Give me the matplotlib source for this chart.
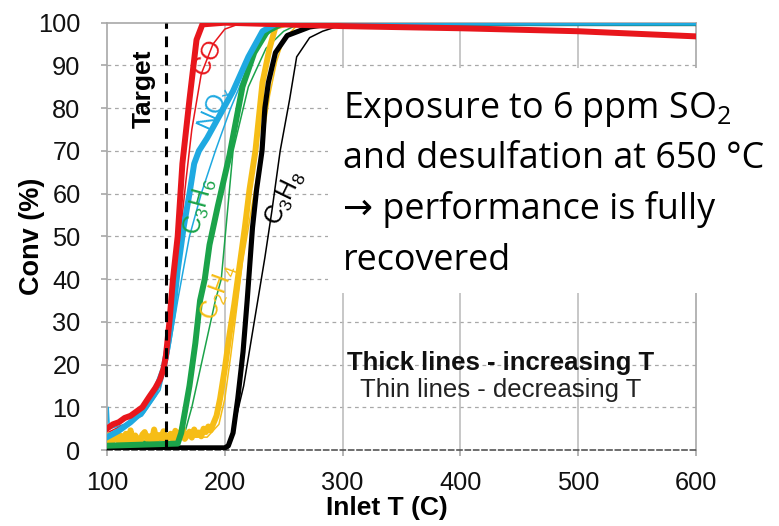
import matplotlib
matplotlib.use("Agg")
import matplotlib.pyplot as plt
from matplotlib.patches import Rectangle

# ---- light-off curves: conversion (%) vs inlet temperature (C) ----
# CO
co_up_T = [100, 105, 110, 115, 120, 125, 130, 136, 141, 145, 148, 150, 153, 156, 160, 164, 170, 176, 181, 200, 300, 400, 500, 600]
co_up_X = [5, 6, 6.5, 7.5, 8, 9, 10, 12.5, 14.5, 16.5, 19, 22, 30, 40, 50, 67, 82, 96, 99.6, 100, 99.2, 98.7, 98, 96.8]
co_dn_T = [100, 115, 130, 145, 152, 157, 162, 167, 172, 180, 190, 200, 215, 300]
co_dn_X = [4, 6, 9, 15, 24, 36, 50, 63, 75, 88, 95, 98.5, 100, 99.5]

# NOx
nox_up_T = [100, 110, 120, 130, 140, 148, 152, 156, 160, 165, 170, 174, 178, 185, 195, 207, 220, 232, 245, 600]
nox_up_X = [3, 4.5, 6.5, 9, 13, 19, 25, 32, 42, 52, 60, 67, 70, 73, 78, 84, 92, 98, 100, 100]
nox_dn_T = [100, 101, 102, 115, 130, 145, 152, 160, 170, 180, 192, 205, 220, 235, 250]
nox_dn_X = [5, 10, 5, 6, 8, 14, 22, 35, 50, 60, 70, 80, 90, 97, 100]

# C3H6
c3h6_up_T = [100, 160, 163, 170, 175, 179, 183, 187, 194, 204, 215, 225, 236, 250, 600]
c3h6_up_X = [1, 1.5, 4, 15, 25, 35, 40, 48, 57, 69, 85, 93, 98, 100, 100]
c3h6_dn_T = [100, 165, 172, 180, 192, 197, 202, 207, 220, 235, 250, 265]
c3h6_dn_X = [1, 3, 10, 20, 35, 40, 55, 70, 85, 94, 98, 100]

# C2H4 (noisy baseline below light-off)
c2h4_up_T = [100, 102, 104, 106, 108, 110, 112, 114, 116, 118, 120, 122, 124, 126, 128, 130, 132, 134,
             136, 138, 140, 142, 144, 146, 148, 150, 152, 154, 156, 158, 160, 162, 164, 166, 168, 170,
             172, 174, 176, 178, 180, 182, 184, 186, 188, 190, 193, 196, 200, 204, 208,
             212, 217, 221, 226, 232, 238, 243, 255, 600]
c2h4_up_X = [2, 3.5, 1.5, 2.8, 4.2, 2, 3.3, 1.8, 3.8, 2.2, 4.6, 2, 3.4, 2.5, 1.8, 3.6, 4.2, 2.6,
             3.2, 2, 4.8, 2.4, 3.5, 2.8, 4.4, 2.2, 3, 3.8, 2.4, 4.5, 2.8, 3.6, 5.2, 2.6, 3.4, 4.3,
             2.9, 4.8, 3.5, 4.1, 3.2, 5, 4.2, 5.5, 4.6, 6, 8, 12, 19, 27, 34,
             42, 52, 61, 70, 86, 94, 99, 100, 100]
c2h4_dn_T = [100, 120, 140, 160, 185, 195, 200, 205, 210, 215, 220, 226, 232, 238, 244, 250, 260, 275]
c2h4_dn_X = [2, 2.5, 2, 3, 3, 6, 12, 22, 33, 44, 52, 62, 72, 83, 91, 96, 99, 100]

# C3H8
c3h8_up_T = [100, 150, 200, 203, 207, 211, 215.5, 219, 223.5, 227, 231.6, 234, 237, 243, 253, 272, 292, 600]
c3h8_up_X = [0.5, 0.5, 0.5, 1, 4, 12, 23, 35, 52, 61, 70, 80, 86, 93, 97, 99, 99.8, 99.8]
c3h8_dn_T = [100, 203, 210, 216, 222, 228, 234, 240, 247, 255, 261, 272, 283, 300, 320]
c3h8_dn_X = [0.3, 0.5, 8, 15, 25, 35, 45, 56, 70, 82, 92, 96.5, 98, 99.5, 100]

target_T = 150

x_ticks = [100, 200, 300, 400, 500, 600]
y_ticks = [0, 10, 20, 30, 40, 50, 60, 70, 80, 90, 100]

RED = "#e8161c"
CYAN = "#1fa9e1"
GREEN = "#1ba34a"
GOLD = "#f6bd16"
BLACK = "#000000"

plt.rcParams["font.family"] = ["Liberation Sans", "DejaVu Sans"]

fig = plt.figure(figsize=(7.79, 5.26), dpi=100)
ax = fig.add_axes([107 / 779, 1 - 450 / 526, (696 - 107) / 779, (450 - 22.7) / 526])

ax.set_xlim(100, 600)
ax.set_ylim(0, 100)

# grid: dashed horizontal, solid vertical
for y in y_ticks[1:-1]:
    ax.axhline(y, color="#a8a8a8", lw=0.9, ls=(0, (3, 3)), zorder=0)
for x in x_ticks[1:-1]:
    ax.axvline(x, color="#bdbdbd", lw=1.2, zorder=0)

for side in ["left", "right", "top"]:
    ax.spines[side].set_color("#a8a8a8")
    ax.spines[side].set_linewidth(1.2)
ax.spines["bottom"].set_color("#555555")
ax.spines["bottom"].set_linestyle((0, (3, 2)))
ax.spines["bottom"].set_linewidth(1.2)

ax.set_xticks(x_ticks)
ax.set_yticks(y_ticks)
ax.tick_params(axis="both", labelsize=18.3, color="#a8a8a8", length=4, width=1.2,
               labelcolor="#111111")
ax.tick_params(axis="y", pad=15)
ax.tick_params(axis="x", pad=11)

ax.set_xlabel("Inlet T (C)", fontsize=19, fontweight="bold")
ax.set_ylabel("Conv (%)", fontsize=19.5, fontweight="bold")
ax.xaxis.set_label_coords(0.475, -0.108)
ax.yaxis.set_label_coords(-0.106, 0.5)

# thin lines: decreasing T
thin = 1.1
ax.plot(c2h4_dn_T, c2h4_dn_X, color=GOLD, lw=thin, zorder=2)
ax.plot(c3h8_dn_T, c3h8_dn_X, color=BLACK, lw=thin, zorder=2)
ax.plot(c3h6_dn_T, c3h6_dn_X, color=GREEN, lw=thin, zorder=2)
ax.plot(nox_dn_T, nox_dn_X, color=CYAN, lw=thin, zorder=2)
ax.plot(co_dn_T, co_dn_X, color=RED, lw=thin, zorder=2)

# thick lines: increasing T
thick = 4.3
ax.plot(c2h4_up_T, c2h4_up_X, color=GOLD, lw=thick, zorder=3, solid_joinstyle="round")
ax.plot(c3h8_up_T, c3h8_up_X, color=BLACK, lw=thick - 0.6, zorder=3, solid_joinstyle="round")
ax.plot(c3h6_up_T, c3h6_up_X, color=GREEN, lw=thick, zorder=3, solid_joinstyle="round")
ax.plot(nox_up_T, nox_up_X, color=CYAN, lw=thick, zorder=3, solid_joinstyle="round")
ax.plot(co_up_T, co_up_X, color=RED, lw=thick, zorder=4, solid_joinstyle="round")

# target temperature
ax.plot([target_T, target_T], [0, 100], color=BLACK, lw=2.2, ls=(0, (3.5, 2.5)), zorder=5)
ax.text(131.5, 84.5, "Target", rotation=90, fontsize=19, fontweight="bold",
        ha="center", va="center", zorder=6)

# species labels
ax.text(186, 92, "CO", color=RED, rotation=63, fontsize=18, ha="center", va="center", zorder=6)
ax.text(192, 80, r"NO$\mathregular{_x}$", color=CYAN, rotation=66, fontsize=18,
        ha="center", va="center", zorder=6)
ax.text(179, 57, r"C$\mathregular{_3}$H$\mathregular{_6}$", color=GREEN, rotation=75,
        fontsize=18, ha="center", va="center", zorder=6)
ax.text(195, 37, r"C$\mathregular{_2}$H$\mathregular{_4}$", color=GOLD, rotation=70,
        fontsize=18, ha="center", va="center", zorder=6)
ax.text(251, 59, r"C$\mathregular{_3}$H$\mathregular{_8}$", color=BLACK, rotation=64,
        fontsize=18, ha="center", va="center", zorder=6)

# legend note
ax.text(434, 20.4, "Thick lines - increasing T", fontsize=18.5, fontweight="bold",
        ha="center", va="center", color="#111111", zorder=6)
ax.text(434, 14.0, "Thin lines - decreasing T", fontsize=18.5,
        ha="center", va="center", color="#222222", zorder=6)

# callout box
fig.patches.append(Rectangle((328 / 779, 1 - 293 / 526), (779 - 328) / 779, (293 - 68) / 526,
                             transform=fig.transFigure, facecolor="white", edgecolor="none",
                             zorder=5))
note_lines = [r"Exposure to 6 ppm SO$\mathregular{_2}$",
              "and desulfation at 650 °C",
              "→ performance is fully",
              "recovered"]
for i, line in enumerate(note_lines):
    fig.text(343 / 779, 1 - (118 + 50.5 * i) / 526, line, fontsize=25.8,
             family=["Open Sans", "DejaVu Sans"], ha="left", va="baseline", zorder=6)

fig.savefig("out.png", dpi=100)
